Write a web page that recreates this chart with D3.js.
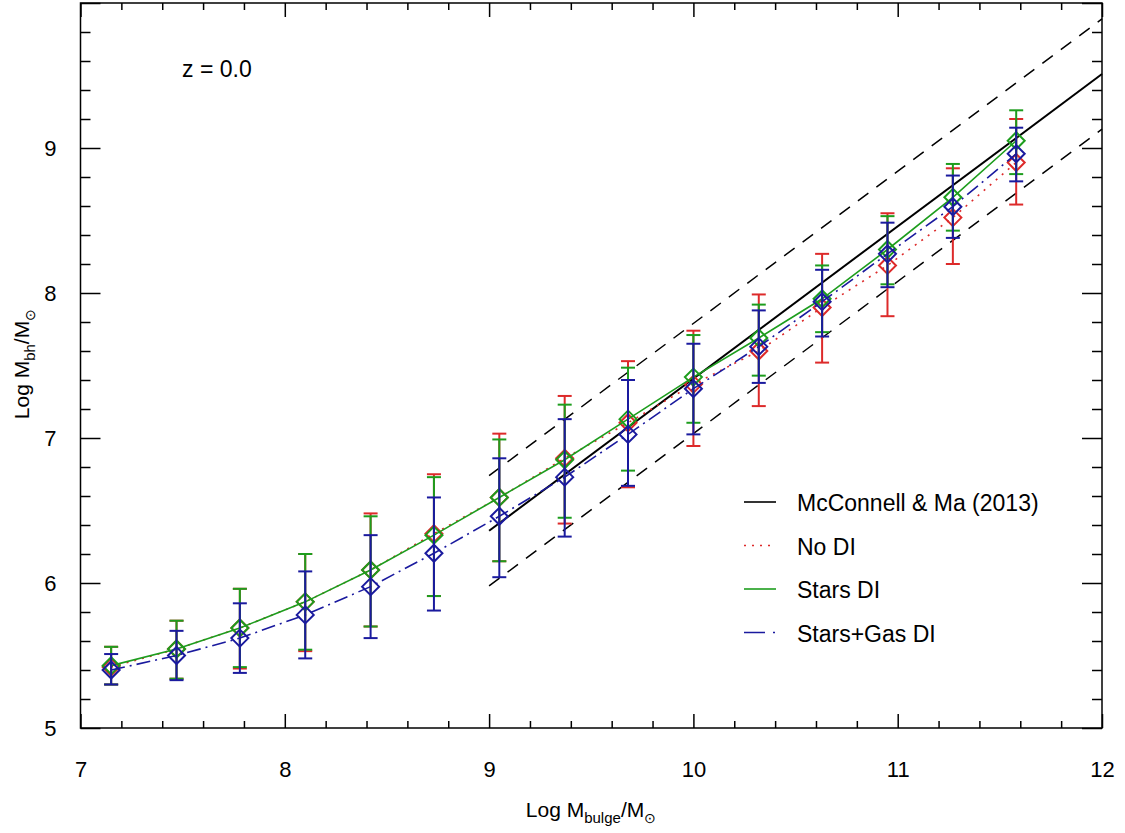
<!DOCTYPE html>
<meta charset="utf-8">
<style>
body { margin: 0; background: #fff; }
text { font-family: "Liberation Sans", Arial, Helvetica, sans-serif; fill: #000; }
.tick text { font-size: 22px; }
.legend text { font-size: 23px; }
</style>
<body>
<script src="https://d3js.org/d3.v7.min.js"></script>
<script>
// bulge mass bins (log Msun)
var massX = [7.15, 7.47, 7.78, 8.10, 8.42, 8.73, 9.05, 9.37, 9.68, 10.00, 10.32, 10.63, 10.95, 11.27, 11.58];

// No DI
var noDI   = [5.42, 5.545, 5.69, 5.87, 6.09, 6.34, 6.59, 6.86, 7.105, 7.37, 7.60, 7.90, 8.19, 8.52, 8.90];
var noDIHi = [5.56, 5.74, 5.96, 6.20, 6.48, 6.75, 7.03, 7.29, 7.53, 7.74, 7.99, 8.27, 8.55, 8.86, 9.20];
var noDILo = [5.30, 5.34, 5.41, 5.53, 5.70, 5.91, 6.15, 6.41, 6.66, 6.945, 7.22, 7.52, 7.84, 8.20, 8.61];

// Stars DI
var starsDI   = [5.43, 5.545, 5.69, 5.87, 6.09, 6.33, 6.59, 6.85, 7.13, 7.42, 7.69, 7.96, 8.30, 8.66, 9.05];
var starsDIHi = [5.56, 5.74, 5.96, 6.20, 6.46, 6.73, 6.99, 7.23, 7.485, 7.71, 7.92, 8.19, 8.53, 8.89, 9.26];
var starsDILo = [5.30, 5.34, 5.42, 5.54, 5.70, 5.91, 6.15, 6.45, 6.775, 7.105, 7.43, 7.73, 8.06, 8.43, 8.82];

// Stars+Gas DI
var gasDI   = [5.40, 5.50, 5.62, 5.78, 5.975, 6.205, 6.46, 6.73, 7.025, 7.34, 7.63, 7.94, 8.27, 8.595, 8.96];
var gasDIHi = [5.51, 5.67, 5.86, 6.08, 6.33, 6.59, 6.86, 7.13, 7.40, 7.65, 7.88, 8.16, 8.485, 8.81, 9.14];
var gasDILo = [5.30, 5.33, 5.38, 5.48, 5.62, 5.81, 6.04, 6.32, 6.67, 7.025, 7.38, 7.70, 8.04, 8.38, 8.77];

// McConnell & Ma (2013) relation and its scatter, end points
var mmX     = [9, 12];
var mmY     = [6.36, 9.51];
var mmUpper = [6.74, 9.89];
var mmLower = [5.98, 9.13];

var xMajor = [7, 8, 9, 10, 11, 12];
var yMajor = [5, 6, 7, 8, 9, 10];
var yLabels = [5, 6, 7, 8, 9];

var legendNames = ["McConnell & Ma (2013)", "No DI", "Stars DI", "Stars+Gas DI"];

var W = 1125, H = 833;
var svg = d3.select("body").append("svg").attr("width", W).attr("height", H);

var x = d3.scaleLinear().domain([7, 12]).range([80.5, 1102]);
var y = d3.scaleLinear().domain([5, 10]).range([728, 3]);

var xMinor = d3.range(7.2, 12, 0.2).filter(function(v){ return Math.abs(v - Math.round(v)) > 0.01; });
var yMinor = d3.range(5.2, 10, 0.2).filter(function(v){ return Math.abs(v - Math.round(v)) > 0.01; });

function styleAxis(g){
	g.select(".domain").remove();
	g.selectAll(".tick line").attr("stroke", "#000").attr("stroke-width", 1.5);
}

// bottom
svg.append("g").attr("transform", "translate(0," + y(5) + ")")
	.call(d3.axisBottom(x).tickValues(xMinor).tickSize(-7).tickFormat("")).call(styleAxis);
svg.append("g").attr("transform", "translate(0," + y(5) + ")")
	.call(d3.axisBottom(x).tickValues(xMajor).tickSize(-14).tickPadding(33).tickFormat(d3.format("d")))
	.call(styleAxis);
// top
svg.append("g").attr("transform", "translate(0," + y(10) + ")")
	.call(d3.axisTop(x).tickValues(xMinor).tickSize(-7).tickFormat("")).call(styleAxis);
svg.append("g").attr("transform", "translate(0," + y(10) + ")")
	.call(d3.axisTop(x).tickValues(xMajor).tickSize(-14).tickFormat("")).call(styleAxis);
// left
svg.append("g").attr("transform", "translate(" + x(7) + ",0)")
	.call(d3.axisLeft(y).tickValues(yMinor).tickSize(-10).tickFormat("")).call(styleAxis);
svg.append("g").attr("transform", "translate(" + x(7) + ",0)")
	.call(d3.axisLeft(y).tickValues(yMajor).tickSize(-20).tickPadding(24)
		.tickFormat(function(d){ return yLabels.indexOf(d) >= 0 ? d : ""; }))
	.call(styleAxis);
// right
svg.append("g").attr("transform", "translate(" + x(12) + ",0)")
	.call(d3.axisRight(y).tickValues(yMinor).tickSize(-10).tickFormat("")).call(styleAxis);
svg.append("g").attr("transform", "translate(" + x(12) + ",0)")
	.call(d3.axisRight(y).tickValues(yMajor).tickSize(-20).tickFormat("")).call(styleAxis);

svg.selectAll(".tick text").attr("fill", "#000");

// frame
svg.append("rect")
	.attr("x", x(7)).attr("y", y(10))
	.attr("width", x(12) - x(7)).attr("height", y(5) - y(10))
	.attr("fill", "none").attr("stroke", "#000").attr("stroke-width", 1.5);

// axis titles
var xt = svg.append("text").attr("x", 591).attr("y", 817).attr("text-anchor", "middle").style("font-size", "21px");
xt.append("tspan").text("Log M");
xt.append("tspan").attr("dy", 6).style("font-size", "15px").text("bulge");
xt.append("tspan").attr("dy", -6).text("/M");
xt.append("tspan").attr("dy", 6).style("font-size", "14px").text("\u2299");

var yt = svg.append("text").attr("transform", "translate(29,364) rotate(-90)")
	.attr("text-anchor", "middle").style("font-size", "21px");
yt.append("tspan").text("Log M");
yt.append("tspan").attr("dy", 6).style("font-size", "15px").text("bh");
yt.append("tspan").attr("dy", -6).text("/M");
yt.append("tspan").attr("dy", 6).style("font-size", "14px").text("\u2299");

svg.append("text").attr("x", 182).attr("y", 77).style("font-size", "23px").text("z = 0.0");

// McConnell & Ma lines
var line2 = d3.line().x(function(d){ return x(d[0]); }).y(function(d){ return y(d[1]); });
svg.append("path").attr("d", line2(d3.zip(mmX, mmY)))
	.attr("fill", "none").attr("stroke", "#000").attr("stroke-width", 2);
[mmUpper, mmLower].forEach(function(arr){
	svg.append("path").attr("d", line2(d3.zip(mmX, arr)))
		.attr("fill", "none").attr("stroke", "#000").attr("stroke-width", 1.5)
		.attr("stroke-dasharray", "13,10");
});

var series = [
	{ mid: noDI,    hi: noDIHi,    lo: noDILo,    color: "#dd2a2a", dash: "2,6" },
	{ mid: starsDI, hi: starsDIHi, lo: starsDILo, color: "#1d9d1d", dash: null },
	{ mid: gasDI,   hi: gasDIHi,   lo: gasDILo,   color: "#1a1a9e", dash: "14,5,2,5" }
];

var r = 8.5, cap = 7;
series.forEach(function(s){
	var pts = massX.map(function(m, i){ return { x: m, y: s.mid[i], hi: s.hi[i], lo: s.lo[i] }; });
	var g = svg.append("g");
	var p = g.append("path").attr("d", line2(pts.map(function(d){ return [d.x, d.y]; })))
		.attr("fill", "none").attr("stroke", s.color).attr("stroke-width", 1.6);
	if (s.dash) p.attr("stroke-dasharray", s.dash);

	var eb = g.selectAll(".err").data(pts).enter().append("g").attr("class", "err");
	eb.append("line")
		.attr("x1", function(d){ return x(d.x); }).attr("x2", function(d){ return x(d.x); })
		.attr("y1", function(d){ return y(d.lo); }).attr("y2", function(d){ return y(d.hi); })
		.attr("stroke", s.color).attr("stroke-width", 2);
	["hi", "lo"].forEach(function(k){
		eb.append("line")
			.attr("x1", function(d){ return x(d.x) - cap; }).attr("x2", function(d){ return x(d.x) + cap; })
			.attr("y1", function(d){ return y(d[k]); }).attr("y2", function(d){ return y(d[k]); })
			.attr("stroke", s.color).attr("stroke-width", 2);
	});
	g.selectAll(".dia").data(pts).enter().append("path").attr("class", "dia")
		.attr("transform", function(d){ return "translate(" + x(d.x) + "," + y(d.y) + ")"; })
		.attr("d", "M0," + (-r) + "L" + r + ",0L0," + r + "L" + (-r) + ",0Z")
		.attr("fill", "none").attr("stroke", s.color).attr("stroke-width", 2);
});

// legend
var legendStyles = [
	{ color: "#000", dash: null, text: "#000" },
	{ color: "#dd2a2a", dash: "2,6", text: "#3a3a3a" },
	{ color: "#1d9d1d", dash: null, text: "#3a3a3a" },
	{ color: "#1a1a9e", dash: "21,8,2,20", text: "#3a3a3a" }
];
var lg = svg.append("g").attr("class", "legend");
legendNames.forEach(function(name, i){
	var yy = 502 + i * 43.5;
	lg.append("line").attr("x1", 744).attr("x2", 776).attr("y1", yy).attr("y2", yy)
		.attr("stroke", legendStyles[i].color).attr("stroke-width", 1.6)
		.attr("stroke-dasharray", legendStyles[i].dash);
	lg.append("text").attr("x", 797).attr("y", yy + 9).attr("fill", legendStyles[i].text).text(name);
});
</script>
</body>
